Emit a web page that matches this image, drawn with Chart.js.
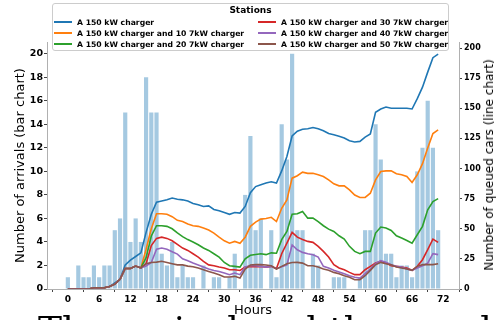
<!DOCTYPE html>
<html>
<head>
<meta charset="utf-8">
<script src="https://cdn.jsdelivr.net/npm/chart.js@4.4.1/dist/chart.umd.min.js"></script>
<style>
  html, body { margin: 0; padding: 0; background: #fff; overflow: hidden; }
  #wrap { position: relative; width: 496px; height: 320px; overflow: hidden; font-family: "DejaVu Sans", sans-serif; }
  #chart { position: absolute; left: 0; top: 0; }
  #legend {
    position: absolute; left: 52px; top: 3px; width: 397px; height: 48px;
    box-sizing: border-box; border: 1px solid #cccccc; border-radius: 3px;
    background: rgba(255, 255, 255, 0.85);
  }
  #legend .title {
    position: absolute; left: 0; top: 0; width: 100%; text-align: center;
    font-weight: bold; font-size: 9px; line-height: 12px; color: #000;
  }
  #legend .items {
    position: absolute; left: 1px; top: 12.5px;
    display: grid; grid-template-columns: 204px auto; grid-template-rows: repeat(3, 11px);
    grid-auto-flow: column;
  }
  #legend .item { display: flex; align-items: center; font-weight: bold; font-size: 7.7px; color: #000; white-space: nowrap; }
  #legend .handle { display: inline-block; width: 18px; height: 2px; margin-right: 5px; }
  #rightTitle {
    position: absolute; left: 489px; top: 165px; white-space: nowrap;
    transform: translate(-50%, -50%) rotate(-90deg);
    font-size: 12px; color: #000;
  }
  #caption {
    position: absolute; left: 38px; top: 312px; white-space: nowrap;
    font-family: "DejaVu Serif", serif; font-size: 36px; line-height: 36px; color: #000;
  }
</style>
</head>
<body>
<div id="wrap">
  <canvas id="chart" width="496" height="320"></canvas>
  <div id="legend"><div class="title">Stations</div><div class="items" id="legendItems"></div></div>
  <div id="rightTitle">Number of queued cars (line chart)</div>
  <div id="caption">The arrival and the number of queued cars for the stations</div>
</div>
<script>
// 時間（時）
const hours = [
  0, 1, 2, 3, 4, 5, 6, 7, 8, 9,
  10, 11, 12, 13, 14, 15, 16, 17, 18, 19,
  20, 21, 22, 23, 24, 25, 26, 27, 28, 29,
  30, 31, 32, 33, 34, 35, 36, 37, 38, 39,
  40, 41, 42, 43, 44, 45, 46, 47, 48, 49,
  50, 51, 52, 53, 54, 55, 56, 57, 58, 59,
  60, 61, 62, 63, 64, 65, 66, 67, 68, 69,
  70, 71
];

// 到着数（棒グラフ）
const arrivals = [
  1, 0, 2, 1, 1, 2, 1, 2, 2, 5,
  6, 15, 4, 6, 4, 18, 15, 15, 3, 2,
  4, 1, 2, 1, 1, 0, 2, 0, 1, 1,
  0, 1, 3, 0, 8, 13, 5, 6, 0, 5,
  1, 14, 11, 20, 5, 5, 0, 3, 2, 0,
  0, 1, 1, 1, 0, 0, 1, 5, 5, 14,
  11, 3, 3, 1, 2, 2, 1, 10, 12, 16,
  12, 5
];

// 待ち台数（折れ線）
const queue150 = [
  0, 0, 0, 0, 0, 1, 1, 1, 2, 5,
  8, 20, 24, 27, 30, 47, 62, 72, 73, 74,
  75.5, 74.5, 74, 73, 71, 70, 68.5, 69, 66, 65,
  63.5, 62, 63.5, 63, 68.5, 80, 85, 86.5, 88, 89,
  88, 98, 110, 127, 131, 132.6, 133, 134, 133, 131.4,
  129, 128, 126.7, 125.3, 123, 122, 122.5, 126, 128.6, 146.7,
  149.4, 151, 150, 150, 150, 150, 149.4, 158, 167.5, 180,
  192, 195
];
const queue10 = [
  0, 0, 0, 0, 0, 1, 1, 1, 2, 4,
  8, 17, 17, 19, 17.5, 33, 50, 62.5, 62.5, 62,
  60, 57, 56, 54, 52.5, 52, 50.6, 49, 46.4, 43,
  40, 38, 39.5, 38, 43, 52, 55.5, 58, 58.5, 59.5,
  56, 67, 74, 92, 94, 97, 96, 96, 94.8, 93.4,
  90.6, 87.3, 85.6, 85.6, 82.3, 78, 76, 76, 79.5, 90.6,
  97.5, 98, 98, 95.6, 94.8, 93.4, 88.4, 94.8, 104, 117,
  129, 132
];
const queue20 = [
  0, 0, 0, 0, 0, 1, 1, 1, 2, 4,
  8, 17, 17, 19, 17.5, 26, 44, 52.5, 52.5, 52,
  50, 46.5, 43.5, 41, 39, 36.7, 34, 32, 29.3, 26.5,
  22, 19.3, 18.8, 18.2, 25, 28, 28.7, 29.2, 28.5, 30,
  29.7, 41, 47.7, 62, 62.4, 64.4, 58.8, 58.8, 56, 52.5,
  49.7, 47.8, 44.2, 41.4, 35.4, 31.2, 29.3, 31.2, 31.2, 46.4,
  51.4, 50.6, 48.6, 44.2, 42.3, 40.3, 38.1, 45, 52, 65.7,
  72.6, 75
];
const queue30 = [
  0, 0, 0, 0, 0, 1, 1, 1, 2, 4,
  8, 17, 17, 19, 17.5, 21, 36, 42, 43, 42,
  40, 37, 34, 32, 29.3, 26.5, 23, 20, 19.3, 18.2,
  17.4, 16, 16, 15.4, 18.2, 18.8, 18.5, 18.8, 18.2, 18.8,
  16.9, 29.3, 38, 47, 43, 41, 39.5, 38.7, 35.4, 31.2,
  26.5, 20.2, 17.4, 16, 13.8, 11.9, 11.9, 16, 18.8, 21.5,
  23, 21.5, 19.3, 18.8, 18.2, 17.4, 15.5, 18.8, 24.3, 32.6,
  41.4, 38.7
];
const queue40 = [
  0, 0, 0, 0, 0, 1, 1, 1, 2, 4,
  8, 17, 17, 19, 17.5, 19, 22, 33, 34, 33,
  31, 29, 25, 23.5, 21.5, 20, 18.2, 16.6, 15.4, 14.6,
  13.3, 11.9, 13.3, 11.9, 18.2, 19.3, 19.3, 18.8, 18.2, 18.8,
  16.9, 18.5, 20, 36.5, 32.6, 30.4, 29.3, 28.5, 26.5, 18.8,
  17.4, 15.5, 14.1, 12.7, 11, 9.7, 9.1, 12.7, 16.6, 21,
  23.5, 22.1, 20.2, 18.8, 18.2, 16.6, 15.5, 17.4, 19.3, 21.5,
  29.3, 28.5
];
const queue50 = [
  0, 0, 0, 0, 0, 1, 1, 1, 2, 4,
  8, 17, 17, 19, 17.5, 21, 22, 22.3, 23, 22,
  21, 20, 20, 19, 18.5, 17.4, 16, 14.6, 13.3, 11.9,
  9.9, 9.9, 10.5, 9.1, 16.6, 19.9, 20.2, 20.2, 19.9, 19.3,
  16.6, 18.8, 21, 22, 22.1, 21.5, 19.3, 19.3, 18.2, 16.6,
  15.5, 13.8, 12.7, 11, 9.7, 7.7, 7.7, 11, 15.5, 20.2,
  22.1, 21, 20.2, 18.2, 17.4, 16.6, 15.5, 18.8, 20.2, 20.2,
  20.2, 21
];

const seriesNames = [
  'A 150 kW charger',
  'A 150 kW charger and 10 7kW charger',
  'A 150 kW charger and 20 7kW charger',
  'A 150 kW charger and 30 7kW charger',
  'A 150 kW charger and 40 7kW charger',
  'A 150 kW charger and 50 7kW charger'
];
const seriesValues = [queue150, queue10, queue20, queue30, queue40, queue50];
const seriesColors = ['#1f77b4', '#ff7f0e', '#2ca02c', '#d62728', '#9467bd', '#8c564b'];

// 目盛り
const xTicks = [0, 6, 12, 18, 24, 30, 36, 42, 48, 54, 60, 66, 72];
const leftTicks = [0, 2, 4, 6, 8, 10, 12, 14, 16, 18, 20];
const rightTicks = [0, 25, 50, 75, 100, 125, 150, 175, 200];

Chart.defaults.font.family = '"DejaVu Sans", sans-serif';
Chart.defaults.color = '#000';

// 凡例（2列）
const legendBox = document.getElementById('legendItems');
seriesNames.forEach((name, i) => {
  const item = document.createElement('div');
  item.className = 'item';
  item.innerHTML = '<span class="handle" style="background:' + seriesColors[i] + '"></span>' + name;
  legendBox.appendChild(item);
});

const lineSets = seriesNames.map((name, i) => ({
  type: 'line',
  label: name,
  data: hours.map((h, j) => ({ x: h, y: seriesValues[i][j] })),
  yAxisID: 'y1',
  borderColor: seriesColors[i],
  borderWidth: 1.6,
  pointRadius: 0,
  fill: false,
  tension: 0,
  order: 6 - i
}));

const barSet = {
  type: 'bar',
  label: 'Arrivals',
  data: hours.map((h, j) => ({ x: h, y: arrivals[j] })),
  yAxisID: 'y',
  backgroundColor: 'rgba(31, 119, 180, 0.4)',
  borderWidth: 0,
  barPercentage: 0.8,
  categoryPercentage: 1.0,
  order: 10
};

const tickGrid = { drawOnChartArea: false, drawTicks: true, tickLength: 3, color: '#444' };
const axisBorder = { display: true, color: '#b0b0b0', width: 1 };

new Chart(document.getElementById('chart').getContext('2d'), {
  data: { datasets: [...lineSets, barSet] },
  options: {
    responsive: false,
    animation: false,
    layout: { padding: { top: 42, left: 0, right: 0, bottom: 0 } },
    plugins: { legend: { display: false }, tooltip: { enabled: false } },
    scales: {
      x: {
        type: 'linear',
        min: -4,
        max: 75,
        offset: false,
        afterBuildTicks: s => { s.ticks = xTicks.map(v => ({ value: v })); },
        afterFit: s => { s.height = 31; },
        ticks: { font: { size: 9, weight: 'bold' }, padding: 2, maxRotation: 0, autoSkip: false },
        grid: tickGrid,
        border: axisBorder,
        title: { display: true, text: 'Hours', font: { size: 13 }, padding: { top: 0, bottom: 2 } }
      },
      y: {
        position: 'left',
        min: 0,
        max: 21,
        afterBuildTicks: s => { s.ticks = leftTicks.map(v => ({ value: v })); },
        afterFit: s => { s.width = 47; },
        ticks: { font: { size: 9.5, weight: 'bold' }, padding: 1 },
        grid: tickGrid,
        border: axisBorder,
        title: { display: true, text: 'Number of arrivals (bar chart)', font: { size: 13 }, padding: { top: 13, bottom: 0 } }
      },
      y1: {
        position: 'right',
        min: 0,
        max: 205,
        afterBuildTicks: s => { s.ticks = rightTicks.map(v => ({ value: v })); },
        afterFit: s => { s.width = 37; },
        ticks: { font: { size: 8, weight: 'bold' }, padding: 2 },
        grid: tickGrid,
        border: axisBorder
      }
    }
  }
});
</script>
</body>
</html>
